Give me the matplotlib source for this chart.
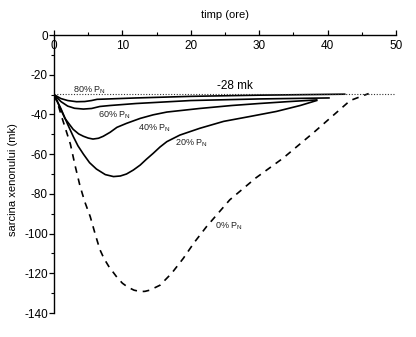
import matplotlib
matplotlib.use('Agg')
import matplotlib.pyplot as plt
from matplotlib.ticker import MultipleLocator

plt.rcParams.update({
    'font.family': 'Liberation Sans',
    'mathtext.default': 'regular',
    'axes.unicode_minus': False,
    'font.size': 8,
})

# ---------- Data ----------
x80 = [0, 1, 2, 3.3, 4.5, 5.5, 6.3, 8, 12, 20, 30, 42.5]
y80 = [-30, -32, -33, -33.6, -33.5, -33, -32.4, -32.2, -31.7, -30.9, -30.3, -29.8]

x60 = [0, 1, 2, 3, 4.3, 5.5, 6.7, 8.2, 12, 20, 30, 40.2]
y60 = [-30, -33.5, -35.8, -36.9, -37.3, -37, -36, -35.5, -34.5, -33, -32.2, -31.7]

x40 = [0, 0.8, 1.6, 2.8, 3.6, 4.3, 5.0, 5.7, 6.5, 7.2, 8.2, 9.2, 10.6, 12.6, 14.5, 16.5, 21.3, 26, 30, 34, 38.4]
y40 = [-30, -36, -42, -47.5, -49.8, -51, -51.9, -52.4, -52, -51, -49, -46.5, -44.5, -42, -40.2, -38.8, -37, -35.5, -34.5, -33.6, -32.7]

x20 = [0, 1, 2, 2.8, 3.5, 4.3, 5.2, 6.2, 7.5, 8.7, 9.7, 10.6, 11.6, 12.6, 13.5, 14.5, 15.5, 16.5, 18.4, 21.3, 24.8, 28.7, 32.5, 36, 38.4]
y20 = [-30, -37, -45, -51, -55.8, -60, -64.3, -67.5, -70.3, -71.3, -71, -70, -68, -65.5, -62.6, -59.6, -56.4, -53.7, -50.4, -47, -43.5, -41, -38.5, -35.5, -33]

x0 = [0, 0.5, 1.2, 2.4, 3.1, 3.8, 4.5, 5.3, 6.0, 6.7, 7.3, 8.0, 9.2, 10.0, 10.8, 11.7, 12.6, 13.3, 14.0, 15.5, 17.2, 18.9, 20.5, 22.3, 25.7, 29.5, 33.5, 38.0, 43.3, 46.0]
y0 = [-30, -34, -42, -55, -66, -76, -84, -91.5, -100, -108, -112.5, -116.5, -122, -125, -127, -128.5, -129.2, -129.1, -128.5, -126, -120, -112.5, -104.5, -96.5, -83, -72, -62, -49, -33, -29.5]

ref_level = -29.7
ref_x = [0, 50]

labels = ['80% P$_N$', '60% P$_N$', '40% P$_N$', '20% P$_N$', '0% P$_N$']
label_pos = [(2.8, -27.7), (6.4, -40.3), (12.3, -46.8), (17.7, -54.4), (23.5, -96.5)]

# ---------- Figure ----------
fig = plt.figure(figsize=(4.16, 3.37), dpi=100)
ax = fig.add_axes([54 / 416, 1 - 313 / 337, 342 / 416, 278 / 337])

for xs, ys in [(x80, y80), (x60, y60), (x40, y40), (x20, y20)]:
    ax.plot(xs, ys, color='black', lw=1.2, solid_joinstyle='round')
ax.plot(x0, y0, color='black', lw=1.2, dashes=(4, 3.5))
ax.plot(ref_x, [ref_level, ref_level], color='#333333', lw=0.8, ls=(0, (1, 1.5)))

for txt, (tx, ty) in zip(labels, label_pos):
    ax.text(tx, ty, txt, fontsize=6.5, ha='left', va='center', color='#222222')
ax.text(26.5, -25.7, '-28 mk', fontsize=8.5, ha='center', va='center')

# ---------- Axes formatting ----------
ax.set_xlim(0, 50)
ax.set_ylim(-140, 0)
ax.spines['bottom'].set_visible(False)
ax.spines['right'].set_visible(False)
for s in ('top', 'left'):
    ax.spines[s].set_linewidth(1.0)

ax.xaxis.set_major_locator(MultipleLocator(10))
ax.xaxis.set_minor_locator(MultipleLocator(5))
ax.yaxis.set_major_locator(MultipleLocator(20))
ax.yaxis.set_minor_locator(MultipleLocator(10))

ax.xaxis.set_ticks_position('top')
ax.xaxis.set_label_position('top')
ax.tick_params(axis='x', which='major', direction='out', length=3.5, width=0.9,
               labelsize=8.5, pad=-16)
ax.tick_params(axis='x', which='minor', direction='out', length=2, width=0.8)
ax.tick_params(axis='y', which='major', direction='out', length=3.5, width=0.9,
               labelsize=8.5, pad=1)
ax.tick_params(axis='y', which='minor', direction='out', length=2, width=0.8)

ax.set_xlabel('timp (ore)', fontsize=8)
ax.xaxis.set_label_coords(0.5, 1.072)
ax.xaxis.label.set_va('center')
ax.set_ylabel('sarcina xenonului (mk)', fontsize=8)
ax.yaxis.set_label_coords(-0.105, 0.48)

fig.savefig('out.png', dpi=100)
plt.close(fig)
